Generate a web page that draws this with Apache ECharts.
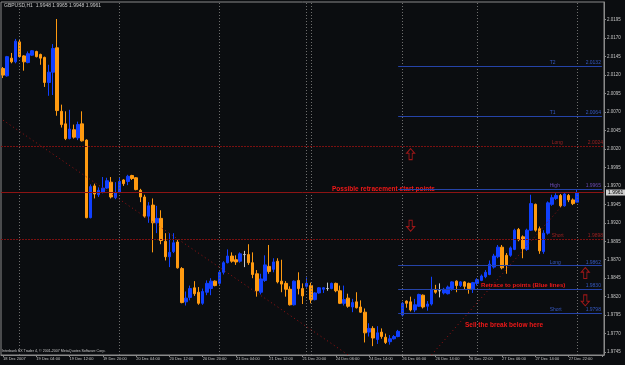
<!DOCTYPE html>
<html>
<head>
<meta charset="utf-8">
<script src="https://cdn.jsdelivr.net/npm/echarts@6/dist/echarts.min.js"></script>
<style>
    html, body { margin: 0; padding: 0; background: #0b0d10; }
    #chart { width: 625px; height: 365px; }
</style>
</head>
<body>
<div id="chart"></div>
<script>
// hourly bars, one label every 8 bars
const tickLabels = ['18 Dec 2007', '19 Dec 04:00', '19 Dec 12:00', '19 Dec 20:00', '20 Dec 04:00', '20 Dec 12:00',
    '20 Dec 20:00', '21 Dec 04:00', '21 Dec 12:00', '21 Dec 20:00', '24 Dec 06:00', '24 Dec 14:00',
    '26 Dec 06:00', '26 Dec 14:00', '26 Dec 22:00', '27 Dec 06:00', '27 Dec 14:00', '27 Dec 22:00'];
const slotCount = 145; // bars plus the empty shift on the right

// [open, close, low, high]
const bars = [
    [2.0129, 2.0120, 2.0116, 2.0131], [2.0119, 2.0145, 2.0118, 2.0146], [2.0143, 2.0138, 2.0136, 2.0150],
    [2.0138, 2.0166, 2.0136, 2.0169], [2.0165, 2.0145, 2.0144, 2.0168], [2.0146, 2.0138, 2.0126, 2.0147],
    [2.0137, 2.0149, 2.0136, 2.0152], [2.0147, 2.0153, 2.0146, 2.0154], [2.0152, 2.0145, 2.0144, 2.0153],
    [2.0148, 2.0143, 2.0134, 2.0149], [2.0144, 2.0110, 2.0104, 2.0145], [2.0110, 2.0124, 2.0092, 2.0134],
    [2.0124, 2.0156, 2.0093, 2.0162], [2.0157, 2.0072, 2.0065, 2.0196], [2.0071, 2.0053, 2.0049, 2.0080],
    [2.0054, 2.0034, 2.0032, 2.0071], [2.0034, 2.0047, 2.0033, 2.0073], [2.0046, 2.0036, 2.0034, 2.0053],
    [2.0035, 2.0053, 2.0032, 2.0057], [2.0054, 2.0031, 2.0030, 2.0071], [2.0032, 1.9927, 1.9926, 2.0033],
    [1.9927, 1.9969, 1.9926, 1.9972], [1.9970, 1.9959, 1.9953, 1.9973], [1.9958, 1.9964, 1.9955, 1.9968],
    [1.9961, 1.9967, 1.9960, 1.9982], [1.9967, 1.9977, 1.9966, 1.9981], [1.9975, 1.9955, 1.9953, 1.9982],
    [1.9954, 1.9961, 1.9952, 1.9975], [1.9961, 1.9976, 1.9960, 1.9982], [1.9978, 1.9973, 1.9970, 1.9979],
    [1.9976, 1.9983, 1.9971, 1.9985], [1.9984, 1.9980, 1.9978, 1.9985], [1.9981, 1.9965, 1.9964, 1.9982],
    [1.9964, 1.9955, 1.9948, 1.9966], [1.9955, 1.9929, 1.9927, 1.9958], [1.9929, 1.9943, 1.9920, 1.9948],
    [1.9944, 1.9920, 1.9880, 1.9953], [1.9920, 1.9926, 1.9906, 1.9943], [1.9926, 1.9896, 1.9891, 1.9937],
    [1.9895, 1.9874, 1.9869, 1.9906], [1.9874, 1.9880, 1.9860, 1.9906], [1.9881, 1.9893, 1.9879, 1.9906],
    [1.9894, 1.9859, 1.9858, 1.9897], [1.9858, 1.9812, 1.9811, 1.9860], [1.9813, 1.9818, 1.9808, 1.9827],
    [1.9819, 1.9831, 1.9815, 1.9835], [1.9832, 1.9824, 1.9821, 1.9841], [1.9826, 1.9811, 1.9809, 1.9833],
    [1.9811, 1.9827, 1.9809, 1.9831], [1.9826, 1.9838, 1.9822, 1.9842], [1.9831, 1.9841, 1.9822, 1.9845],
    [1.9841, 1.9835, 1.9834, 1.9842], [1.9838, 1.9853, 1.9836, 1.9856], [1.9853, 1.9866, 1.9850, 1.9868],
    [1.9866, 1.9875, 1.9865, 1.9884], [1.9875, 1.9868, 1.9866, 1.9880], [1.9870, 1.9867, 1.9863, 1.9876],
    [1.9868, 1.9878, 1.9866, 1.9880], [1.9877, 1.9877, 1.9860, 1.9882], [1.9877, 1.9866, 1.9863, 1.9891],
    [1.9866, 1.9850, 1.9845, 1.9880], [1.9851, 1.9828, 1.9820, 1.9856], [1.9826, 1.9844, 1.9823, 1.9851],
    [1.9842, 1.9863, 1.9840, 1.9876], [1.9861, 1.9854, 1.9851, 1.9890], [1.9857, 1.9867, 1.9853, 1.9872],
    [1.9868, 1.9840, 1.9838, 1.9872], [1.9841, 1.9837, 1.9826, 1.9870], [1.9838, 1.9830, 1.9820, 1.9841],
    [1.9830, 1.9809, 1.9808, 1.9834], [1.9809, 1.9841, 1.9808, 1.9842], [1.9842, 1.9831, 1.9823, 1.9853],
    [1.9831, 1.9821, 1.9810, 1.9838], [1.9834, 1.9838, 1.9832, 1.9846], [1.9835, 1.9816, 1.9811, 1.9839],
    [1.9816, 1.9825, 1.9815, 1.9826], [1.9825, 1.9832, 1.9824, 1.9833], [1.9830, 1.9832, 1.9825, 1.9833],
    [1.9831, 1.9831, 1.9828, 1.9839], [1.9831, 1.9838, 1.9830, 1.9839], [1.9838, 1.9828, 1.9826, 1.9839],
    [1.9828, 1.9811, 1.9810, 1.9835], [1.9811, 1.9816, 1.9808, 1.9835], [1.9818, 1.9807, 1.9805, 1.9824],
    [1.9806, 1.9812, 1.9799, 1.9817], [1.9813, 1.9805, 1.9804, 1.9826], [1.9806, 1.9799, 1.9798, 1.9815],
    [1.9799, 1.9771, 1.9758, 1.9804], [1.9772, 1.9777, 1.9766, 1.9784], [1.9777, 1.9764, 1.9753, 1.9780],
    [1.9762, 1.9771, 1.9756, 1.9780], [1.9772, 1.9766, 1.9763, 1.9777], [1.9765, 1.9758, 1.9756, 1.9770],
    [1.9759, 1.9763, 1.9755, 1.9768], [1.9763, 1.9766, 1.9762, 1.9768], [1.9766, 1.9773, 1.9765, 1.9775],
    [1.9795, 1.9811, 1.9793, 1.9813], [1.9814, 1.9811, 1.9805, 1.9815], [1.9813, 1.9802, 1.9800, 1.9820],
    [1.9802, 1.9809, 1.9799, 1.9817], [1.9807, 1.9823, 1.9806, 1.9824], [1.9822, 1.9806, 1.9804, 1.9823],
    [1.9807, 1.9810, 1.9801, 1.9814], [1.9810, 1.9830, 1.9808, 1.9847], [1.9830, 1.9826, 1.9824, 1.9836],
    [1.9828, 1.9828, 1.9819, 1.9838], [1.9825, 1.9830, 1.9823, 1.9832], [1.9824, 1.9833, 1.9823, 1.9835],
    [1.9831, 1.9840, 1.9828, 1.9841], [1.9841, 1.9835, 1.9826, 1.9842], [1.9835, 1.9840, 1.9833, 1.9841],
    [1.9840, 1.9834, 1.9830, 1.9841], [1.9838, 1.9831, 1.9824, 1.9839], [1.9830, 1.9839, 1.9825, 1.9840],
    [1.9838, 1.9843, 1.9835, 1.9845], [1.9842, 1.9848, 1.9841, 1.9850], [1.9847, 1.9853, 1.9845, 1.9856],
    [1.9850, 1.9864, 1.9849, 1.9869], [1.9860, 1.9875, 1.9858, 1.9878], [1.9874, 1.9887, 1.9872, 1.9890],
    [1.9887, 1.9859, 1.9857, 1.9890], [1.9876, 1.9863, 1.9851, 1.9879], [1.9876, 1.9886, 1.9874, 1.9888],
    [1.9884, 1.9910, 1.9883, 1.9912], [1.9911, 1.9897, 1.9895, 1.9913], [1.9901, 1.9885, 1.9872, 1.9903],
    [1.9884, 1.9910, 1.9882, 1.9912], [1.9910, 1.9946, 1.9909, 1.9958], [1.9945, 1.9910, 1.9908, 1.9946],
    [1.9912, 1.9882, 1.9878, 1.9915], [1.9881, 1.9906, 1.9878, 1.9910], [1.9906, 1.9947, 1.9904, 1.9949],
    [1.9945, 1.9954, 1.9943, 1.9958], [1.9953, 1.9957, 1.9951, 1.9960], [1.9957, 1.9943, 1.9941, 1.9959],
    [1.9943, 1.9959, 1.9942, 1.9960], [1.9957, 1.9951, 1.9948, 1.9959], [1.9951, 1.9946, 1.9944, 1.9953],
    [1.9948, 1.9961, 1.9948, 1.9965]
];

const yTicks = [1.9745, 1.9770, 1.9795, 1.9820, 1.9845, 1.9870, 1.9895, 1.9920, 1.9945, 1.9970,
    1.9995, 2.0020, 2.0045, 2.0070, 2.0095, 2.0120, 2.0145, 2.0170, 2.0195];

// day separators (bar index)
const separators = [4, 28, 52, 73, 74, 96, 114, 138];

// blue levels drawn from the 26 Dec session onward
const blueNames = ['T2', 'T1', 'High', 'Long', '', 'Short'];
const blueValues = [2.0132, 2.0064, 1.9965, 1.9862, 1.9830, 1.9798];
const blueStart = 95;

// red full-width levels
const redNames = ['Long', 'Short'];
const redValues = [2.0024, 1.9898];
const bidPrice = 1.9961;

// red dotted trend lines: [[index, price], [index, price]]
const trendLines = [
    [[0, 2.0059], [83, 1.9741]],
    [[103, 1.9741], [135, 1.9947]]
];

// hollow arrows
const arrowPoints = [[98, 2.0013], [98, 1.9916], [140, 1.9852], [140, 1.9815]];
const arrowUp = [true, false, true, false];

const categories = [];
for (let i = 0; i < slotCount; i++) {
    categories.push(i % 8 === 0 && tickLabels[i / 8] ? tickLabels[i / 8] : '#' + i);
}

const FONT = 'Liberation Sans';
const levelLabel = (name, value, color) => ({
    show: true,
    position: 'insideEndTop',
    distance: [1, 1],
    formatter: `{n|${name}}{v|${value.toFixed(4)}}`,
    rich: {
        n: { width: 36, align: 'left', fontSize: 5, color, fontFamily: FONT },
        v: { fontSize: 5, color, fontFamily: FONT }
    }
});

const markData = [];
separators.forEach((i) => {
    markData.push({ xAxis: i, lineStyle: { color: '#6e6e6e', type: [1, 2], width: 1 }, label: { show: false } });
});
redValues.forEach((v, k) => {
    markData.push({
        yAxis: v,
        lineStyle: { color: '#7a1010', type: [2, 1], width: 1 },
        label: levelLabel(redNames[k], v, '#9c2020')
    });
});
markData.push({
    yAxis: bidPrice,
    lineStyle: { color: '#8c1414', type: 'solid', width: 1 },
    label: {
        show: true, position: 'end', distance: 2, formatter: bidPrice.toFixed(4),
        backgroundColor: '#d0d0d0', color: '#000', padding: [1, 2, 0, 2], fontSize: 5, fontFamily: FONT
    }
});
blueValues.forEach((v, k) => {
    markData.push([
        { coord: [blueStart, v], lineStyle: { color: '#2543a8', type: 'solid', width: 1 },
          label: levelLabel(blueNames[k], v, k === 2 ? '#6a4ab0' : '#3558c0') },
        { coord: [slotCount - 1, v] }
    ]);
});
trendLines.forEach((seg) => {
    markData.push([
        { coord: seg[0], lineStyle: { color: '#9a1212', type: [1, 3], width: 1 }, label: { show: false } },
        { coord: seg[1] }
    ]);
});

const chart = echarts.init(document.getElementById('chart'), null, { renderer: 'canvas' });

chart.setOption({
    animation: false,
    backgroundColor: '#0b0d10',
    grid: { left: 1, right: 21, top: 2, bottom: 10, show: true, borderColor: '#8a8a8a', borderWidth: 1 },
    xAxis: {
        type: 'category',
        data: categories,
        boundaryGap: true,
        axisLine: { lineStyle: { color: '#8a8a8a' } },
        axisTick: { show: true, interval: 7, alignWithLabel: true, length: 2, lineStyle: { color: '#8a8a8a' } },
        axisLabel: {
            interval: 7, align: 'left', margin: 2, fontSize: 4, color: '#c4c4c4', fontFamily: FONT,
            formatter: (v) => (v.charAt(0) === '#' ? '' : v)
        },
        splitLine: { show: false }
    },
    yAxis: {
        type: 'value',
        position: 'right',
        min: 1.9741,
        max: 2.0219,
        splitLine: { show: false },
        axisLine: { show: true, lineStyle: { color: '#8a8a8a' } },
        axisTick: { show: true, length: 2, customValues: yTicks, lineStyle: { color: '#8a8a8a' } },
        axisLabel: {
            customValues: yTicks, margin: 3, fontSize: 4.5, color: '#c4c4c4', fontFamily: FONT,
            formatter: (v) => v.toFixed(4)
        }
    },
    series: [
        {
            type: 'candlestick',
            data: bars,
            barWidth: 3,
            itemStyle: {
                color: '#1040ff',
                color0: '#ff9a10',
                borderColor: '#1040ff',
                borderColor0: '#ff9a10',
                borderColorDoji: '#c8c8c8',
                borderWidth: 1
            },
            markLine: { silent: true, symbol: 'none', animation: false, precision: 4, data: markData }
        },
        {
            type: 'scatter',
            silent: true,
            symbol: 'path://M5,0 L10,5 L7,5 L7,12 L3,12 L3,5 L0,5 Z',
            symbolSize: [8, 11],
            itemStyle: { color: 'rgba(0,0,0,0)', borderColor: '#c41a1a', borderWidth: 1 },
            data: arrowPoints.map((p, k) => ({ value: p, symbolRotate: arrowUp[k] ? 0 : 180 }))
        }
    ],
    graphic: [
        { type: 'text', left: 4, top: 3, style: { text: 'GBPUSD,H1  1.9948 1.9965 1.9948 1.9961', fill: '#c8c8c8', font: '5px "Liberation Sans"' } },
        { type: 'text', left: 2, top: 349, style: { text: 'Interbank FX Trader 4, © 2001-2007 MetaQuotes Software Corp.', fill: '#c8c8c8', font: '3.6px "Liberation Sans"' } },
        { type: 'text', left: 332, top: 186, style: { text: 'Possible retracement start points', fill: '#f01818', font: 'bold 6.5px "Liberation Sans"' } },
        { type: 'text', left: 481, top: 282, style: { text: 'Retrace to points (Blue lines)', fill: '#f01818', font: 'bold 6.1px "Liberation Sans"' } },
        { type: 'text', left: 465, top: 322, style: { text: 'Sell the break below here', fill: '#f01818', font: 'bold 6.5px "Liberation Sans"' } }
    ]
});
</script>
</body>
</html>
